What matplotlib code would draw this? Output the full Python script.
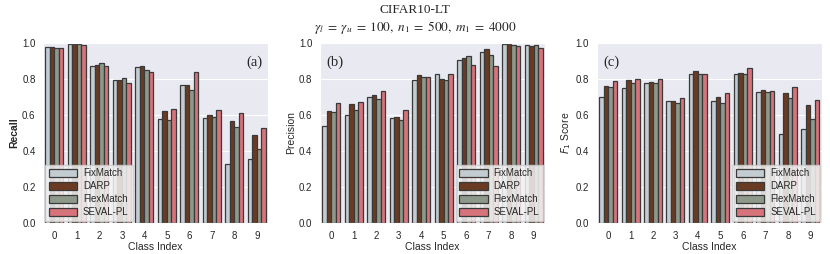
import numpy as np
import matplotlib
matplotlib.use("Agg")
import matplotlib.pyplot as plt
import seaborn as sns

classes = list(range(10))
methods = ["FixMatch", "DARP", "FlexMatch", "SEVAL-PL"]
colors = ["#c3ccd0", "#6b3a22", "#8e998b", "#d6737b"]

recall_fixmatch = [0.98, 0.995, 0.87, 0.795, 0.865, 0.58, 0.765, 0.585, 0.33, 0.355]
recall_darp = [0.98, 0.995, 0.875, 0.795, 0.87, 0.62, 0.765, 0.60, 0.565, 0.49]
recall_flexmatch = [0.97, 0.995, 0.89, 0.805, 0.85, 0.57, 0.74, 0.59, 0.535, 0.41]
recall_seval = [0.97, 0.99, 0.87, 0.775, 0.84, 0.635, 0.84, 0.63, 0.61, 0.525]

precision_fixmatch = [0.54, 0.60, 0.70, 0.585, 0.795, 0.825, 0.905, 0.95, 0.995, 0.99]
precision_darp = [0.62, 0.66, 0.71, 0.59, 0.82, 0.80, 0.915, 0.965, 0.995, 0.985]
precision_flexmatch = [0.615, 0.63, 0.69, 0.57, 0.81, 0.795, 0.93, 0.935, 0.99, 0.99]
precision_seval = [0.665, 0.67, 0.735, 0.63, 0.81, 0.825, 0.875, 0.87, 0.985, 0.97]

f1_fixmatch = [0.70, 0.75, 0.78, 0.675, 0.83, 0.68, 0.83, 0.725, 0.495, 0.52]
f1_darp = [0.76, 0.795, 0.785, 0.68, 0.845, 0.70, 0.835, 0.74, 0.72, 0.655]
f1_flexmatch = [0.755, 0.775, 0.78, 0.665, 0.83, 0.665, 0.825, 0.725, 0.695, 0.58]
f1_seval = [0.79, 0.80, 0.80, 0.695, 0.83, 0.72, 0.86, 0.735, 0.755, 0.685]

panels = [
    ("Recall", "(a)", [recall_fixmatch, recall_darp, recall_flexmatch, recall_seval], "right", "lower left"),
    ("Precision", "(b)", [precision_fixmatch, precision_darp, precision_flexmatch, precision_seval], "left", "lower right"),
    (r"$F_1$ Score", "(c)", [f1_fixmatch, f1_darp, f1_flexmatch, f1_seval], "left", "lower right"),
]

sns.set_style("darkgrid", {"axes.facecolor": "#e9e9f2"})
plt.rcParams["font.family"] = ["Liberation Sans", "DejaVu Sans"]
plt.rcParams["mathtext.fontset"] = "dejavusans"

fig = plt.figure(figsize=(8.3, 2.54), dpi=100)
lefts = [0.052, 0.3855, 0.719]
width = 0.271
bar_w = 0.2
x = np.arange(len(classes))

for left, (ylabel, tag, series, tag_side, legend_loc) in zip(lefts, panels):
    ax = fig.add_axes([left, 0.122, width, 0.709])
    for i, (vals, c, name) in enumerate(zip(series, colors, methods)):
        ax.bar(x + (i - 1.5) * bar_w, vals, bar_w, color=c, edgecolor="#3a3a3a",
               linewidth=0.9, label=name)
    ax.set_xlim(-0.5, 9.5)
    ax.set_ylim(0, 1.0)
    ax.set_xticks(x)
    ax.set_xticklabels([str(c) for c in classes])
    ax.set_yticks([0, 0.2, 0.4, 0.6, 0.8, 1.0])
    ax.tick_params(labelsize=7, pad=2)
    ax.grid(axis="x", visible=False)
    ax.set_xlabel("Class Index", fontsize=7.5, labelpad=1)
    ax.set_ylabel(ylabel, fontsize=7.5, labelpad=2,
                  fontweight="bold" if ylabel == "Recall" else "normal")
    if tag_side == "right":
        ax.text(0.975, 0.89, tag, transform=ax.transAxes, ha="right", va="center",
                fontsize=10.5, family="Liberation Serif")
    else:
        ax.text(0.03, 0.89, tag, transform=ax.transAxes, ha="left", va="center",
                fontsize=10.5, family="Liberation Serif")
    leg = ax.legend(loc=legend_loc, fontsize=7, frameon=True, borderpad=0.4,
                    handlelength=2.9, handleheight=0.9, labelspacing=0.3,
                    handletextpad=0.6, borderaxespad=0.2, fancybox=False)
    leg.get_frame().set_facecolor("#f4f4f4")
    leg.get_frame().set_alpha(0.85)
    leg.get_frame().set_edgecolor("#cccccc")

fig.text(0.5, 0.96, "CIFAR10-LT", ha="center", va="center", fontsize=9.5, family="Liberation Serif")
fig.text(0.5, 0.893,
         r"$\gamma_l\;=\;\gamma_u\;=\;100,\;n_1\;=\;500,\;m_1\;=\;4000$",
         ha="center", va="center", fontsize=9.5, math_fontfamily="stix")

fig.savefig("out.png", dpi=100)
